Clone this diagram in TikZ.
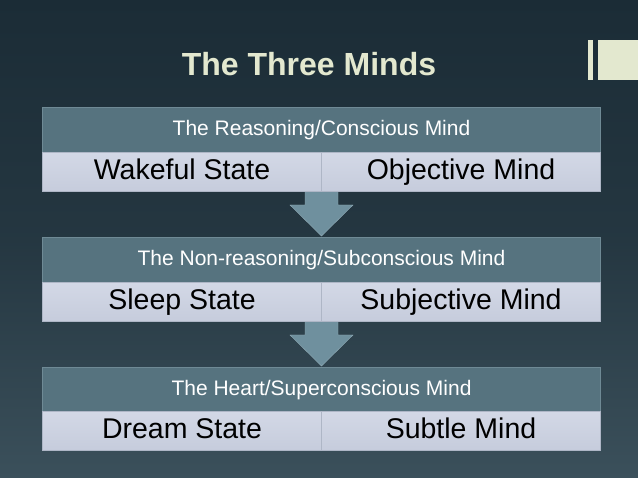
\documentclass[tikz,border=0pt]{standalone}
\usepackage{fontspec}
\setmainfont{Liberation Sans}
\begin{document}
\begin{tikzpicture}[x=1pt,y=-1pt,
  hdr/.style={draw=hdredge,line width=1pt,fill=hdrfill,minimum width=558pt,minimum height=45pt,anchor=north west,inner sep=0pt,text=white,font=\fontsize{21}{24}\selectfont,text height=15pt,text depth=4pt},
  cell/.style={draw=celledge,line width=1pt,top color=cellA,bottom color=cellB,minimum width=279pt,minimum height=39pt,anchor=north west,inner sep=0pt,font=\fontsize{28.5}{32}\selectfont,text height=20pt,text depth=5pt},
  arr/.style={fill=arrfill,draw=arredge}]
\definecolor{bgtop}{HTML}{1B2C36}
\definecolor{bgbot}{HTML}{3B505B}
\definecolor{hdrfill}{HTML}{56737F}
\definecolor{hdredge}{HTML}{6F8A95}
\definecolor{cellA}{HTML}{D3D8E6}
\definecolor{cellB}{HTML}{C6CCDC}
\definecolor{celledge}{HTML}{AEB6C6}
\definecolor{arrfill}{HTML}{6F909E}
\definecolor{arredge}{HTML}{8FAAB5}
\definecolor{titlec}{HTML}{E3E8CF}
\shade[top color=bgtop,bottom color=bgbot,middle color=bgtop!70!bgbot] (0,0) rectangle (638,478);
\useasboundingbox (0,0) rectangle (638,478);
\fill[titlec] (588,40) rectangle (593,80);
\fill[titlec] (598,40) rectangle (638,80);
\node[font=\bfseries\fontsize{32}{36}\selectfont,text=titlec] (title) at (309,64) {The Three Minds};
% arrows
\filldraw[arr] (305,191) -- (338,191) -- (338,205) -- (353,205) -- (321.5,236) -- (290,205) -- (305,205) -- cycle;
\filldraw[arr] (305,321) -- (338,321) -- (338,335) -- (353,335) -- (321.5,366) -- (290,335) -- (305,335) -- cycle;
% block 1
\node[hdr] (h1) at (42,107) {The Reasoning/Conscious Mind};
\node[cell] (a1) at (42,152) {Wakeful State};
\node[cell] (b1) at (321,152) {Objective Mind};
% block 2
\node[hdr] (h2) at (42,237) {The Non-reasoning/Subconscious Mind};
\node[cell] (a2) at (42,282) {Sleep State};
\node[cell] (b2) at (321,282) {Subjective Mind};
% block 3
\node[hdr] (h3) at (42,367) {The Heart/Superconscious Mind};
\node[cell] (a3) at (42,411) {Dream State};
\node[cell] (b3) at (321,411) {Subtle Mind};
\end{tikzpicture}
\end{document}
